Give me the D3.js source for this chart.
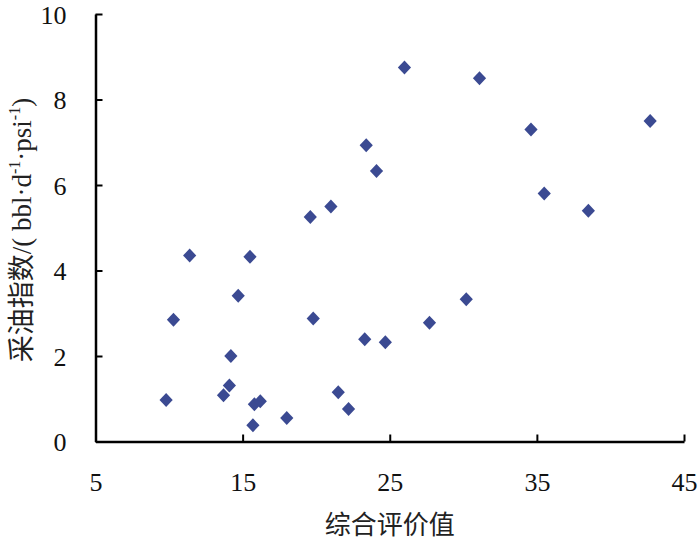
<!DOCTYPE html>
<html>
<head>
<meta charset="utf-8">
<script src="https://cdn.jsdelivr.net/npm/d3@7"></script>
<style>
  body { margin: 0; background: #fff; }
  svg { display: block; }
  .num { font-family: "Liberation Serif", Tinos, "Times New Roman", "DejaVu Serif", serif; }
</style>
</head>
<body>
<script>
// Scatter data
var scoreValues = [9.8, 10.3, 11.4, 13.7, 14.1, 14.2, 14.7, 15.5, 15.7, 15.8, 16.2,
                   18.0, 19.6, 19.8, 21.0, 21.5, 22.2, 23.3, 23.4, 24.1, 24.7,
                   26.0, 27.7, 30.2, 31.1, 34.6, 35.5, 38.5, 42.7];
var oilIndexValues = [0.97, 2.85, 4.35, 1.08, 1.31, 2.0, 3.41, 4.32, 0.38, 0.87, 0.94,
                      0.55, 5.25, 2.88, 5.5, 1.15, 0.76, 2.39, 6.93, 6.33, 2.32,
                      8.75, 2.78, 3.33, 8.5, 7.3, 5.8, 5.4, 7.5];
var xTicks = [5, 15, 25, 35, 45];
var yTicks = [0, 2, 4, 6, 8, 10];

var svgWidth = 700, svgHeight = 543;
var margin = {top: 14, right: 16, bottom: 101.5, left: 95.5};
var width = svgWidth - margin.left - margin.right,
    height = svgHeight - margin.top - margin.bottom;

var dotColor = '#3b4a92';
var cjkFont = '"Liberation Serif", Tinos, "Times New Roman", "Noto Sans CJK SC", serif';

var x = d3.scaleLinear().domain([5, 45]).range([0, width]);
var y = d3.scaleLinear().domain([0, 10]).range([height, 0]);

var svg = d3.select("body").append("svg")
  .attr("width", svgWidth)
  .attr("height", svgHeight);

var g = svg.append("g")
  .attr("transform", "translate(" + margin.left + "," + margin.top + ")");

//======//
// Axes //
//======//
var xAxis = g.append("g")
  .call(d3.axisBottom(x).tickValues(xTicks).tickSizeInner(-7).tickSizeOuter(0).tickPadding(31))
  .attr("transform", "translate(0," + height + ")");

var yAxis = g.append("g")
  .call(d3.axisLeft(y).tickValues(yTicks).tickSizeInner(-7).tickSizeOuter(0).tickPadding(29));

[xAxis, yAxis].forEach(function(ax) {
  ax.attr("font-family", null).attr("font-size", null);
  ax.select(".domain").attr("stroke", "#000").attr("stroke-width", 2.5);
  ax.selectAll(".tick line").attr("stroke", "#000").attr("stroke-width", 2);
  ax.selectAll(".tick text")
    .attr("class", "num")
    .attr("fill", "#111")
    .style("font-size", "26px");
});
yAxis.selectAll(".tick text").attr("dy", "0.36em");

//========//
// Points //
//========//
var data = scoreValues.map(function(v, i) { return {score: v, oil: oilIndexValues[i]}; });

g.selectAll(".dot")
  .data(data)
  .enter().append("path")
  .attr("class", "dot")
  .attr("d", "M0,-7L6.6,0L0,7L-6.6,0Z")
  .attr("transform", function(d) { return "translate(" + x(d.score) + "," + y(d.oil) + ")"; })
  .style("fill", dotColor);

//========//
// Labels //
//========//
svg.append("text")
  .attr("x", margin.left + width / 2)
  .attr("y", 534)
  .attr("text-anchor", "middle")
  .style("font-family", cjkFont)
  .style("font-size", "26px")
  .attr("fill", "#222")
  .text("综合评价值");

var yLabel = svg.append("text")
  .attr("transform", "translate(31,230) rotate(-90)")
  .attr("text-anchor", "middle")
  .style("font-family", cjkFont)
  .style("font-size", "27px")
  .attr("fill", "#222");
yLabel.append("tspan").text("采油指数/( bbl·d");
yLabel.append("tspan").attr("dy", -11).style("font-size", "16px").text("-1");
yLabel.append("tspan").attr("dy", 11).text("·psi");
yLabel.append("tspan").attr("dy", -11).style("font-size", "16px").text("-1");
yLabel.append("tspan").attr("dy", 11).text(")");
</script>
</body>
</html>
